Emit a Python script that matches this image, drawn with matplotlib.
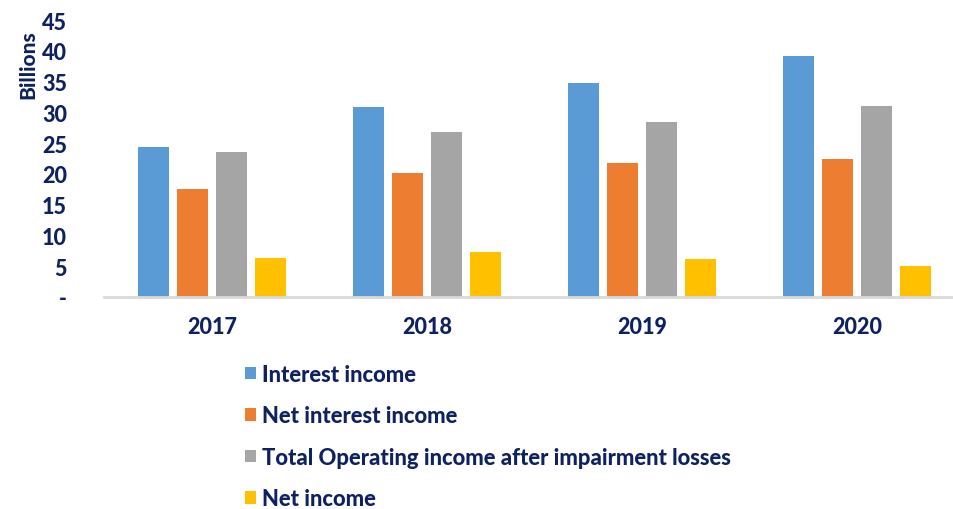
import matplotlib
matplotlib.use("Agg")
import matplotlib.pyplot as plt
import numpy as np

years = ["2017", "2018", "2019", "2020"]
series_names = ["Interest income", "Net interest income",
                "Total Operating income after impairment losses", "Net income"]
interest_income = [24.4, 30.9, 34.8, 39.1]
net_interest_income = [17.5, 20.1, 21.8, 22.4]
total_operating_income = [23.6, 26.8, 28.4, 31.1]
net_income = [6.4, 7.3, 6.1, 5.0]
yticks = [0, 5, 10, 15, 20, 25, 30, 35, 40, 45]
ytick_labels = ["-", "5", "10", "15", "20", "25", "30", "35", "40", "45"]

colors = ["#5B9BD5", "#ED7D31", "#A5A5A5", "#FFC000"]
navy = "#0E2160"
font = "Lato"
weight = "black"

W, H = 954, 510
fig = plt.figure(figsize=(W / 100, H / 100), dpi=100)
left_px, right_px = 104.5, 954
bottom_px, top_px = 298, 21
ax = fig.add_axes([left_px / W, 1 - bottom_px / H, (right_px - left_px) / W, (bottom_px - top_px) / H])

x = np.arange(len(years))
pitch = 39 / 215
width = 31 / 215
data = [interest_income, net_interest_income, total_operating_income, net_income]
handles = []
for i, (vals, c, name) in enumerate(zip(data, colors, series_names)):
    b = ax.bar(x + (i - 1.5) * pitch, vals, width, color=c, label=name, zorder=2)
    handles.append(b)

ax.set_xlim(-0.5, -0.5 + (right_px - left_px) / 215)
ax.set_ylim(0, 45)
ax.set_yticks(yticks)
ax.set_yticklabels(ytick_labels)
ax.set_xticks(x)
ax.set_xticklabels(years)
for sp in ["top", "right", "left"]:
    ax.spines[sp].set_visible(False)
ax.spines["bottom"].set_color("#D9D9D9")
ax.spines["bottom"].set_linewidth(2)
ax.spines["bottom"].set_zorder(3)
ax.tick_params(axis="both", length=0)
ax.tick_params(axis="y", pad=27)
ax.tick_params(axis="x", pad=14)
for lab in ax.get_yticklabels() + ax.get_xticklabels():
    lab.set_fontfamily(font)
    lab.set_fontweight(weight)
    lab.set_fontsize(15.5)
    lab.set_color(navy)

fig.text(28 / W, 1 - 65 / H, "Billions", rotation=90, ha="center", va="center",
         fontfamily=font, fontweight=weight, fontsize=15, color=navy)

leg = fig.legend(handles=handles, labels=series_names, loc="upper left",
                 bbox_to_anchor=(245 / W, 1 - 365 / H), frameon=False,
                 prop={"family": font, "weight": weight, "size": 15.8},
                 handlelength=0.5, handleheight=0.5, handletextpad=0.28,
                 labelspacing=0.93, borderaxespad=0, borderpad=0)
for t in leg.get_texts():
    t.set_color(navy)

fig.savefig("out.png", dpi=100)
